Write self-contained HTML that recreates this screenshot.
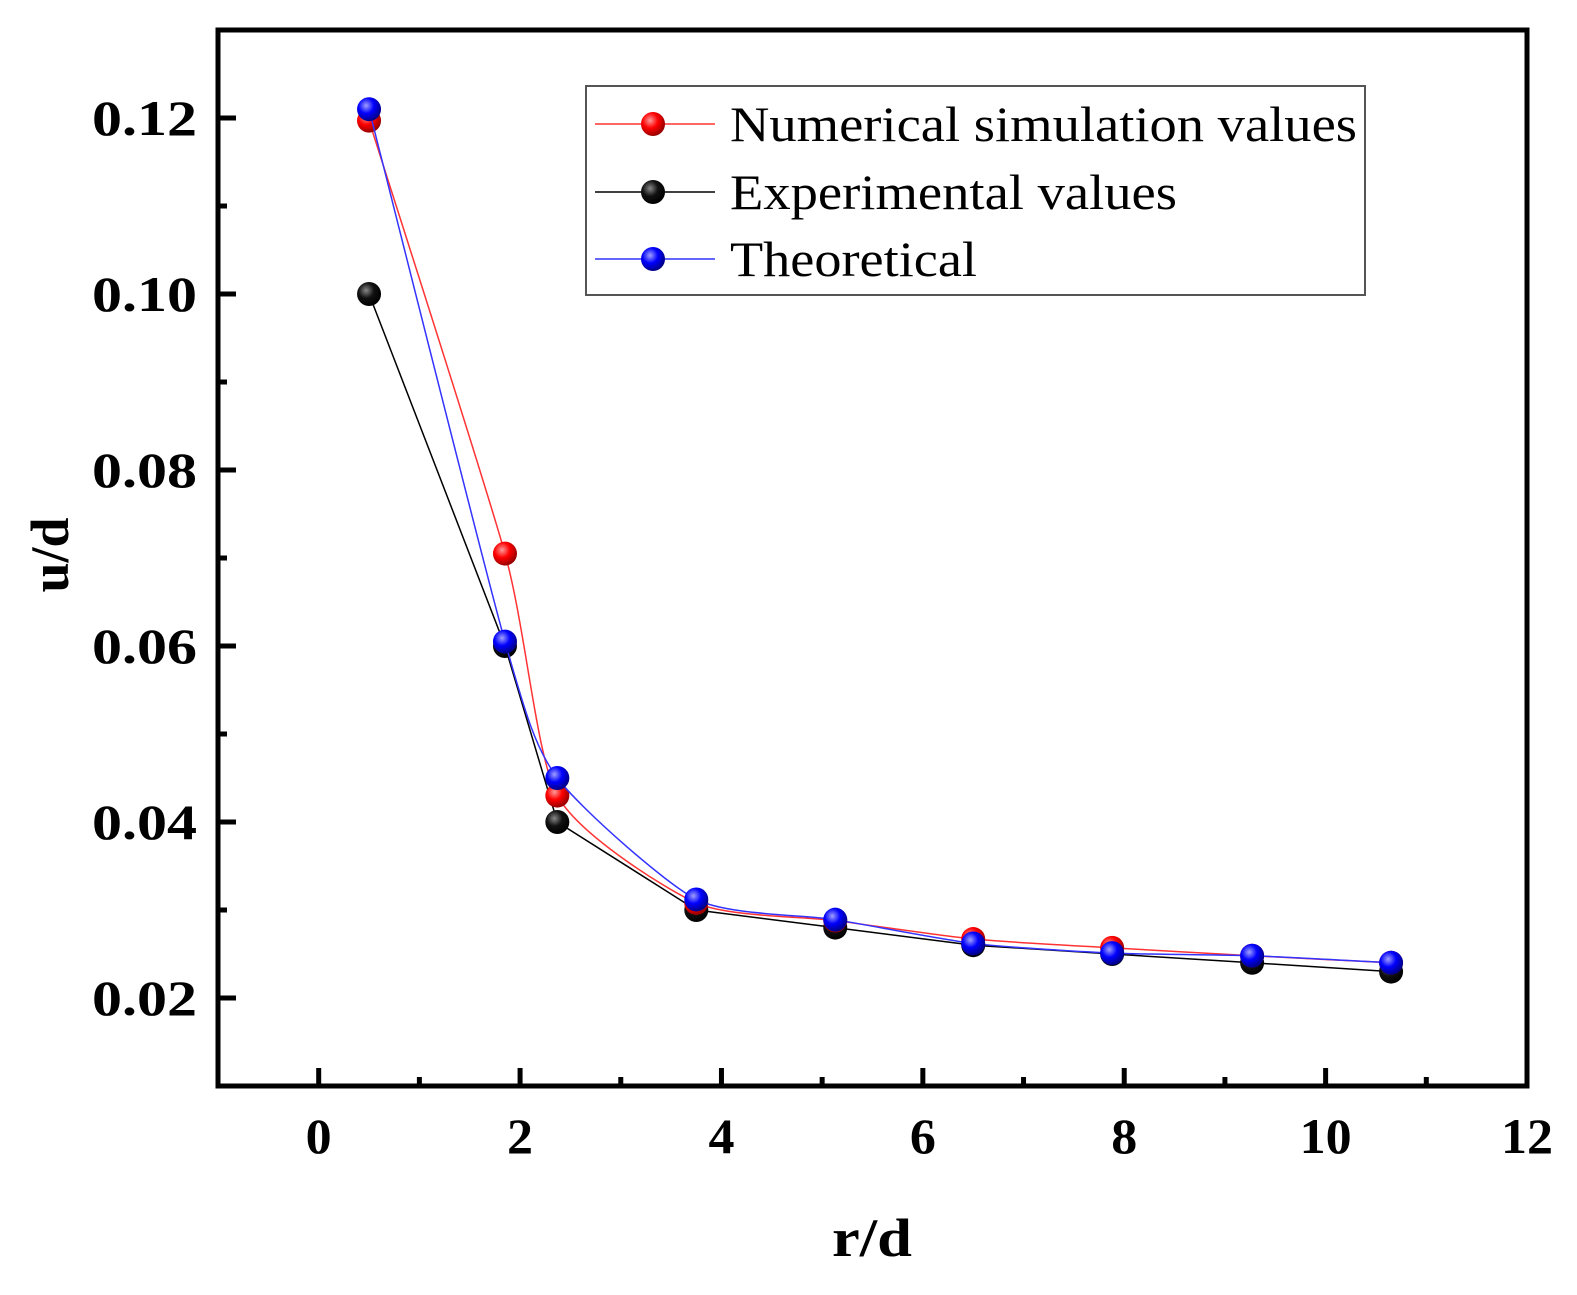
<!DOCTYPE html>
<html><head><meta charset="utf-8"><style>
body{margin:0;background:#fff}
text{font-family:"Liberation Serif",serif}
</style></head><body>
<svg id="chart" width="1577" height="1290" xmlns="http://www.w3.org/2000/svg">
<defs>
<radialGradient id="gr" cx="0.38" cy="0.35" r="0.65"><stop offset="0" stop-color="#ff9a9a"/><stop offset="0.5" stop-color="#f00"/><stop offset="1" stop-color="#900"/></radialGradient>
<radialGradient id="gk" cx="0.38" cy="0.35" r="0.65"><stop offset="0" stop-color="#888"/><stop offset="0.5" stop-color="#111"/><stop offset="1" stop-color="#000"/></radialGradient>
<radialGradient id="gb" cx="0.38" cy="0.35" r="0.65"><stop offset="0" stop-color="#a0a0ff"/><stop offset="0.5" stop-color="#00f"/><stop offset="1" stop-color="#008"/></radialGradient>
</defs>
<g id="plot"></g>
</svg>
<script>
const xVals=[0.5,1.85,2.37,3.75,5.13,6.5,7.88,9.27,10.65];
const numVals=[0.1197,0.0705,0.043,0.0308,0.0288,0.0267,0.0257,0.0248,0.0240];
const expVals=[0.100,0.060,0.040,0.030,0.028,0.026,0.025,0.024,0.023];
const theoVals=[0.121,0.0605,0.045,0.0312,0.0289,0.0262,0.0251,0.0248,0.0240];
const xTicks=[0,2,4,6,8,10,12];
const yTicks=[0.02,0.04,0.06,0.08,0.10,0.12];
const yTickLabels=["0.02","0.04","0.06","0.08","0.10","0.12"];
const X0=-1,X1=12,Y0=0.01,Y1=0.13;
const L=218,R=1527,T=30,B=1086;
const sx=v=>L+(v-X0)/(X1-X0)*(R-L);
const sy=v=>B-(v-Y0)/(Y1-Y0)*(B-T);
const NS="http://www.w3.org/2000/svg";
const g=document.getElementById('plot');
function mk(tag,attrs){const e=document.createElementNS(NS,tag);for(const k in attrs)e.setAttribute(k,attrs[k]);g.appendChild(e);return e;}
let e=mk('rect',{x:L,y:T,width:R-L,height:B-T,fill:'none',stroke:'#000','stroke-width':5});


xTicks.forEach((t,i)=>{
 let l=mk('line',{x1:sx(t),x2:sx(t),y1:B,y2:B-18,stroke:'#000','stroke-width':5});
 
 
 if(i<xTicks.length-1){let m=mk('line',{x1:sx(t+1),x2:sx(t+1),y1:B,y2:B-9,stroke:'#000','stroke-width':5});
 
 }
 const s=String(t);
 let tx=mk('text',{x:sx(t),y:1153,'text-anchor':'middle','font-size':50,'font-weight':'bold',textLength:s.length*26,lengthAdjust:'spacingAndGlyphs'});tx.textContent=s;
 
 
});
yTicks.forEach((t,i)=>{
 let l=mk('line',{x1:L,x2:L+18,y1:sy(t),y2:sy(t),stroke:'#000','stroke-width':5});
 
 
 let tx=mk('text',{x:92,y:sy(t)+17,'font-size':50,'font-weight':'bold',textLength:105,lengthAdjust:'spacingAndGlyphs'});tx.textContent=yTickLabels[i];
 
 
});
[0.03,0.05,0.07,0.09,0.11].forEach(t=>{
 let m=mk('line',{x1:L,x2:L+9,y1:sy(t),y2:sy(t),stroke:'#000','stroke-width':5});
 
 
});
let xt=mk('text',{x:832,y:1256,'font-size':54,'font-weight':'bold',textLength:80,lengthAdjust:'spacingAndGlyphs'});xt.textContent='r/d';


let yt=mk('text',{x:0,y:0,'text-anchor':'middle','font-size':54,'font-weight':'bold',transform:'translate(68,555) rotate(-90)'});yt.textContent='u/d';


function spline(xs,ys){
 const p=xs.map((x,i)=>[sx(x),sy(ys[i])]);
 let d=`M${p[0][0]},${p[0][1]}`;
 const k=9;
 for(let i=0;i<p.length-1;i++){
  const p0=p[i-1]||p[i],p1=p[i],p2=p[i+1],p3=p[i+2]||p[i+1];
  const c1=[p1[0]+(p2[0]-p0[0])/k,p1[1]+(p2[1]-p0[1])/k];
  const c2=[p2[0]-(p3[0]-p1[0])/k,p2[1]-(p3[1]-p1[1])/k];
  d+=` C${c1[0]},${c1[1]} ${c2[0]},${c2[1]} ${p2[0]},${p2[1]}`;
 }
 return d;
}
function series(vals,color,grad,name,smooth){
 const d=smooth?spline(xVals,vals):'M'+xVals.map((x,i)=>sx(x)+','+sy(vals[i])).join(' L');
 let p=mk('path',{d:d,fill:'none',stroke:color,'stroke-width':1.5});
 
 
 xVals.forEach((x,i)=>{
  let c=mk('circle',{cx:sx(x),cy:sy(vals[i]),r:12,fill:`url(#${grad})`});
  
  
 });
}
series(expVals,'#000','gk','experimental',false);
series(numVals,'#f33','gr','numerical',true);
series(theoVals,'#33f','gb','theoretical',true);
let lb=mk('rect',{x:586,y:86,width:779,height:209,fill:'#fff',stroke:'#555','stroke-width':2});


[['Numerical simulation values','#f33','gr',124,627],['Experimental values','#000','gk',192,447],['Theoretical','#33f','gb',259,247]].forEach(([t,c,gd,y,w])=>{
 let l=mk('line',{x1:595,x2:715,y1:y,y2:y,stroke:c,'stroke-width':1.5});
 
 
 let ci=mk('circle',{cx:653,cy:y,r:12,fill:`url(#${gd})`});
 
 
 let tx=mk('text',{x:730,y:y+17,'font-size':50,textLength:w,lengthAdjust:'spacingAndGlyphs'});tx.textContent=t;
 
 
});
</script>
</body></html>
